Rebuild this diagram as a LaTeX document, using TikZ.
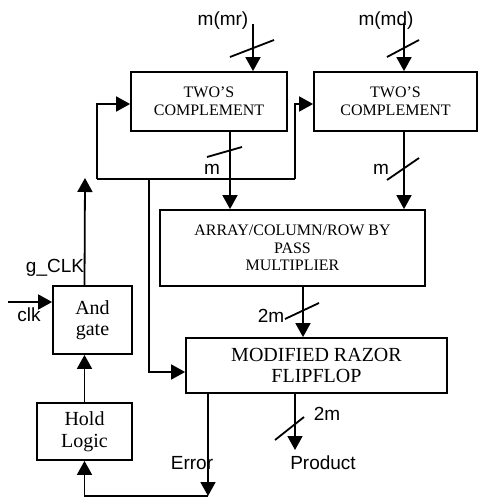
\documentclass[tikz,border=0pt]{standalone}
\usepackage{fontspec}
\setmainfont{Liberation Serif}
\setsansfont{Liberation Sans}
\usepackage{tikz}
\usetikzlibrary{arrows.meta,positioning,calc}

\begin{document}
\begin{tikzpicture}[x=1pt, y=-1pt, line width=1.8pt,
  box/.style={draw, align=center, inner sep=0pt, font=\fontsize{16}{17.5}\selectfont},
  bigbox/.style={box, font=\fontsize{20}{21.5}\selectfont},
  lbl/.style={font=\sffamily\fontsize{19}{20}\selectfont, inner sep=0pt},
  arr/.style={-{Triangle[length=14pt, width=15pt]}}]
\useasboundingbox (0,0) rectangle (479,498);
% blocks
\node[box, minimum width=156pt, minimum height=59pt] (tcmr) at (209,101.5) {TWO'S\\COMPLEMENT};
\node[box, minimum width=163pt, minimum height=59pt] (tcmd) at (395.5,101.5) {TWO'S\\COMPLEMENT};
\node[box, minimum width=265pt, minimum height=76pt] (mult) at (292.5,248) {ARRAY/COLUMN/ROW BY\\PASS\\MULTIPLIER};
\node[bigbox, minimum width=261pt, minimum height=55pt] (razor) at (316.5,365.5) {MODIFIED RAZOR\\FLIPFLOP};
\node[bigbox, minimum width=79pt, minimum height=68pt] (andg) at (92.5,320) {And\\gate};
\node[bigbox, minimum width=95pt, minimum height=57pt] (hold) at (84.5,431.5) {Hold\\Logic};
% labels
\node[lbl] (mr) at (223,21) {m(mr)};
\node[lbl] (md) at (386,21) {m(md)};
\node[lbl] (mone) at (212,169) {m};
\node[lbl] (mtwo) at (381,169) {m};
\node[lbl] (twom) at (271,316) {2m};
\node[lbl] (twomp) at (327,414) {2m};
\node[lbl] (prod) at (323,463) {Product};
\node[lbl] (err) at (192,463) {Error};
\node[lbl] (gclk) at (55,268) {g\_CLK};
\node[lbl] (clk) at (29,315) {clk};
% free ends
\coordinate (mrin) at (253,24);
\coordinate (mdin) at (404,24);
\coordinate (busl) at (97,179);
\coordinate (busr) at (295,179);
\coordinate (tap) at (149,179);
\coordinate (gtop) at (85,178);
\coordinate (clkin) at (8,302);
\coordinate (prodend) at (295,450);
\coordinate (errc) at (208,496);
% inputs
\draw[arr] (mrin) -- (mrin |- tcmr.north);
\draw[arr] (mdin) -- (mdin |- tcmd.north);
\draw (230,57) -- (274,40);
\draw (387,57) -- (419,40);
% two's complement outputs
\draw[arr] ([xshift=21pt]tcmr.south) -- ([xshift=21pt]tcmr.south |- mult.north);
\draw[arr] ([xshift=8.5pt]tcmd.south) -- ([xshift=8.5pt]tcmd.south |- mult.north);
\draw (207,157) -- (242,147);
\draw (387,180) -- (419,158);
% clock bus
\draw (busl) -- (busr);
\draw[arr] (busl) |- ([yshift=-2.5pt]tcmr.west);
\draw[arr] (busr) |- ([yshift=-2.5pt]tcmd.west);
\draw[arr] (tap) |- ([yshift=-6.5pt]razor.west);
\draw[arr] (andg.north -| hold.north) -- (gtop);
\draw[arr] (clkin) -- (clkin -| andg.west);
\draw[arr] (hold.north) -- (hold.north |- andg.south);
% multiplier to razor
\draw[arr] ([xshift=10.5pt]mult.south) -- ([xshift=10.5pt]mult.south |- razor.north);
\draw (285,319) -- (319,303);
% outputs
\draw[arr] (prodend |- razor.south) -- (prodend);
\draw (275,440) -- (304,417);
\draw[arr] (errc |- razor.south) -- (errc);
\draw[arr] (errc) -| (hold.south);
\end{tikzpicture}
\end{document}
